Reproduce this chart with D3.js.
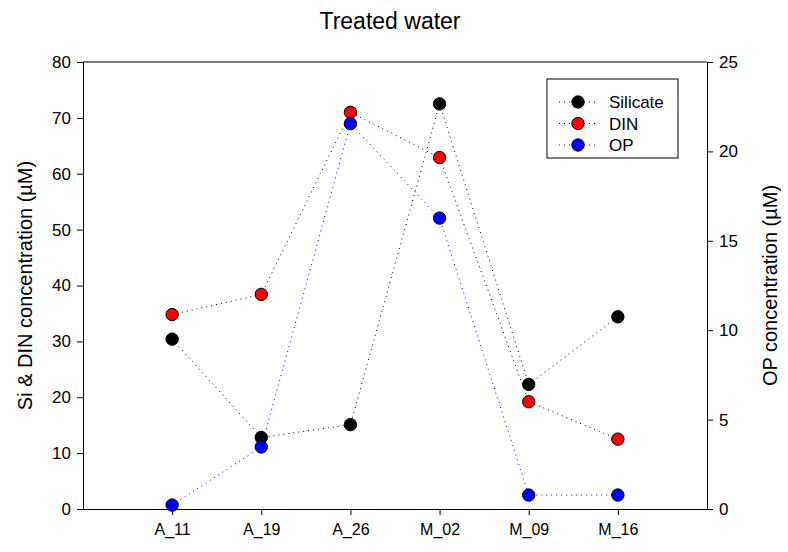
<!DOCTYPE html>
<html>
<head>
<meta charset="utf-8">
<script src="https://cdn.jsdelivr.net/npm/d3@7"></script>
<style>
  body { margin: 0; background: #fff; }
  text { font-family: "Liberation Sans", Arial, sans-serif; fill: #000; }
</style>
</head>
<body>
<div id="chart"></div>
<script>
// Sampling sites
const sites = ["A_11", "A_19", "A_26", "M_02", "M_09", "M_16"];
// Left axis series (µM)
const silicate = [30.4, 12.8, 15.1, 72.5, 22.3, 34.4];
const din = [34.8, 38.4, 71.0, 62.9, 19.2, 12.5];
// Right axis series (µM)
const op = [0.22, 3.47, 21.55, 16.27, 0.78, 0.78];

const leftTicks = [0, 10, 20, 30, 40, 50, 60, 70, 80];
const rightTicks = [0, 5, 10, 15, 20, 25];

const width = 788, height = 552;
const margin = { top: 62, right: 81, bottom: 43, left: 83 };

const svg = d3.select("#chart").append("svg")
  .attr("width", width).attr("height", height);

const x = d3.scaleLinear().domain([0, sites.length + 1])
  .range([margin.left, width - margin.right]);
const yL = d3.scaleLinear().domain([0, 80])
  .range([height - margin.bottom, margin.top]);
const yR = d3.scaleLinear().domain([0, 25])
  .range([height - margin.bottom, margin.top]);

// frame top line
svg.append("line")
  .attr("x1", margin.left).attr("x2", width - margin.right)
  .attr("y1", margin.top).attr("y2", margin.top)
  .attr("stroke", "#000").attr("stroke-width", 1);

const styleAxis = (g, fs) => {
  g.select(".domain").attr("stroke", "#000");
  g.selectAll(".tick line").attr("stroke", "#000");
  g.selectAll(".tick text").style("font-size", fs).attr("fill", "#000")
    .style("font-family", "Liberation Sans, Arial, sans-serif");
};

svg.append("g")
  .attr("transform", `translate(${margin.left},0)`)
  .call(d3.axisLeft(yL).tickValues(leftTicks).tickSize(6).tickSizeOuter(0).tickPadding(6))
  .call(g => styleAxis(g, "17px"));

svg.append("g")
  .attr("transform", `translate(${width - margin.right},0)`)
  .call(d3.axisRight(yR).tickValues(rightTicks).tickSize(6).tickSizeOuter(0).tickPadding(6))
  .call(g => styleAxis(g, "17px"));

svg.append("g")
  .attr("transform", `translate(0,${height - margin.bottom})`)
  .call(d3.axisBottom(x).tickValues(d3.range(1, sites.length + 1))
    .tickFormat(i => sites[i - 1]).tickSize(6).tickSizeOuter(0).tickPadding(9))
  .call(g => styleAxis(g, "16px"));

// titles
svg.append("text").attr("x", 390).attr("y", 29).attr("text-anchor", "middle")
  .style("font-size", "23px").text("Treated water");

svg.append("text")
  .attr("transform", `translate(32,${(margin.top + height - margin.bottom) / 2}) rotate(-90)`)
  .attr("text-anchor", "middle").style("font-size", "20px")
  .text("Si & DIN concentration (\u00b5M)");

svg.append("text")
  .attr("transform", `translate(777,${(margin.top + height - margin.bottom) / 2}) rotate(-90)`)
  .attr("text-anchor", "middle").style("font-size", "20px")
  .text("OP concentration (\u00b5M)");

// series
const series = [
  { name: "Silicate", values: silicate, y: yL, fill: "#000", line: "#000" },
  { name: "DIN", values: din, y: yL, fill: "#ff0000", line: "#000" },
  { name: "OP", values: op, y: yR, fill: "#0000ff", line: "#0000ff" }
];

const plot = svg.append("g");
series.forEach(s => {
  const line = d3.line().x((d, i) => x(i + 1)).y(d => s.y(d));
  plot.append("path").datum(s.values)
    .attr("d", line).attr("fill", "none")
    .attr("stroke", s.line).attr("stroke-width", 1)
    .attr("stroke-dasharray", "1,4");
  plot.selectAll(null).data(s.values).enter().append("circle")
    .attr("cx", (d, i) => x(i + 1)).attr("cy", d => s.y(d))
    .attr("r", 6.2).attr("fill", s.fill)
    .attr("stroke", "#000").attr("stroke-width", 1);
});

// legend
const legend = svg.append("g").attr("transform", "translate(547,79)");
legend.append("rect").attr("width", 131).attr("height", 79)
  .attr("fill", "#fff").attr("stroke", "#000").attr("stroke-width", 1);
series.forEach((s, i) => {
  const ly = 23 + i * 21.5;
  legend.append("line").attr("x1", 12).attr("x2", 50).attr("y1", ly).attr("y2", ly)
    .attr("stroke", s.line).attr("stroke-dasharray", "1,4");
  legend.append("circle").attr("cx", 31).attr("cy", ly).attr("r", 6.2)
    .attr("fill", s.fill).attr("stroke", "#000");
  legend.append("text").attr("x", 62).attr("y", ly + 6)
    .style("font-size", "17px").text(s.name);
});
</script>
</body>
</html>
